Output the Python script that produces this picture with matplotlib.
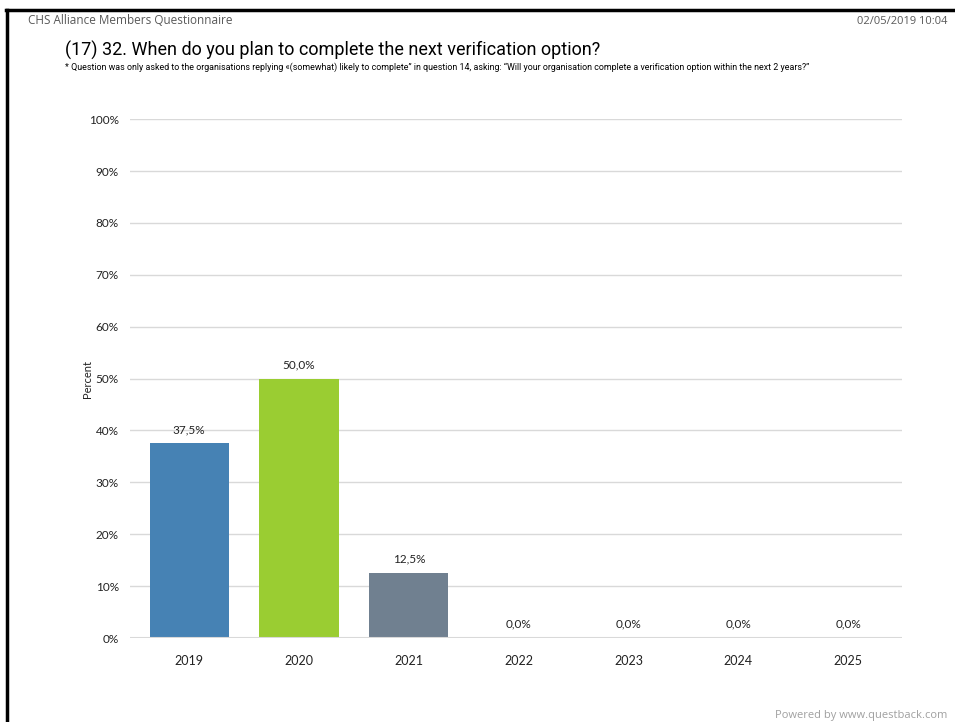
import matplotlib; matplotlib.use('Agg')
import matplotlib.pyplot as plt
from matplotlib.lines import Line2D
import numpy as np

years = ['2019', '2020', '2021', '2022', '2023', '2024', '2025']
percent = [37.5, 50.0, 12.5, 0.0, 0.0, 0.0, 0.0]
bar_colors = ['#4682B4', '#9ACD32', '#708090', '#4682B4', '#4682B4', '#4682B4', '#4682B4']
yticks = [0, 10, 20, 30, 40, 50, 60, 70, 80, 90, 100]

plt.rcParams['font.family'] = ['Lato', 'DejaVu Sans']
fig = plt.figure(figsize=(9.55, 7.22), dpi=100)
ax = fig.add_axes([0.136, 0.1163, 0.8085, 0.7187])

x = np.arange(len(years))
ax.bar(x, percent, width=0.72, color=bar_colors, zorder=3)
for xi, v in zip(x, percent):
    ax.text(xi, v + 1.6, f'{v:.1f}%'.replace('.', ','), ha='center', va='bottom',
            fontsize=8.5, color='#222222')

ax.set_xlim(-0.54, 6.49)
ax.set_ylim(0, 100)
ax.set_xticks(x)
ax.set_xticklabels(years, fontsize=9, color='#222222')
ax.set_yticks(yticks)
ax.set_yticklabels([f'{t}%' for t in yticks], fontsize=8.5, color='#222222')
ax.tick_params(length=0, pad=12)
ax.tick_params(axis='y', pad=8)
ax.grid(axis='y', color='#d9d9d9', lw=1, zorder=0)
for s in ax.spines.values():
    s.set_visible(False)
ax.axhline(0, color='#d9d9d9', lw=1.5, zorder=4)
ax.set_ylabel('Percent', fontsize=8, color='#222222', labelpad=-3)

# page frame
fig.add_artist(Line2D([6/955, 1], [1 - 10/722, 1 - 10/722], color='black', lw=2.5))
fig.add_artist(Line2D([7/955, 7/955], [0, 1 - 10/722], color='black', lw=2.5))

fig.text(28/955, 1 - 24/722, 'CHS Alliance Members Questionnaire', fontsize=8.5,
         color='#595959', family=['Open Sans', 'DejaVu Sans'])
fig.text(947/955, 1 - 24/722, '02/05/2019 10:04', fontsize=8, color='#595959',
         ha='right', family=['Open Sans', 'DejaVu Sans'])
fig.text(65/955, 1 - 56/722, '(17) 32. When do you plan to complete the next verification option?',
         fontsize=13, color='black', family=['Roboto', 'DejaVu Sans'])
fig.text(65/955, 1 - 70/722,
         '* Question was only asked to the organisations replying \u00ab(somewhat) likely to complete\u201d in question 14, asking: \u201cWill your organisation complete a verification option within the next 2 years?\u201d',
         fontsize=6.4, color='black', family=['Roboto', 'DejaVu Sans'])
fig.text(947/955, 1/722, 'Powered by www.questback.com', fontsize=8,
         color='#a0a0a0', ha='right', va='bottom', family=['Open Sans', 'DejaVu Sans'])

fig.savefig('out.png', dpi=100)
